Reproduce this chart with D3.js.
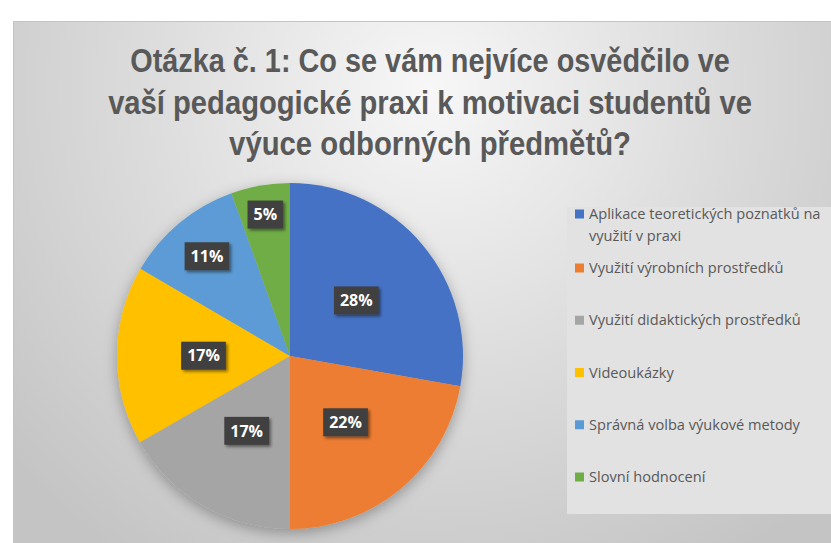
<!DOCTYPE html>
<html>
<head>
<meta charset="utf-8">
<script src="https://cdn.jsdelivr.net/npm/d3@7"></script>
<style>
body{margin:0;background:#fff}
</style>
</head>
<body>
<div id="chart"></div>
<script>
// data
const kategorie = ["Aplikace teoretických poznatků na využití v praxi", "Využití výrobních prostředků",
  "Využití didaktických prostředků", "Videoukázky", "Správná volba výukové metody", "Slovní hodnocení"]
const hodnoty = [27.8, 22.2, 16.7, 16.7, 11.1, 5.5]
const popisky = ["28%", "22%", "17%", "17%", "11%", "5%"]
const barvy = ["#4472c4", "#ed7d31", "#a5a5a5", "#ffc000", "#5b9bd5", "#70ad47"]
const titulek = ["Otázka č. 1: Co se vám nejvíce osvědčilo ve",
  "vaší pedagogické praxi k motivaci studentů ve", "výuce odborných předmětů?"]

const ancho = 831, alto = 543
const svg = d3.select("#chart").append("svg").attr("width", ancho).attr("height", alto)
const defs = svg.append("defs")

// pozadi
const grad = defs.append("radialGradient").attr("id", "bg")
  .attr("gradientUnits", "userSpaceOnUse").attr("cx", 430).attr("cy", 90).attr("r", 560)
grad.append("stop").attr("offset", 0).attr("stop-color", "#f7f7f7")
grad.append("stop").attr("offset", 0.55).attr("stop-color", "#dadada")
grad.append("stop").attr("offset", 1).attr("stop-color", "#c4c4c4")

const stin = defs.append("filter").attr("id", "stin").attr("x", "-20%").attr("y", "-20%").attr("width", "140%").attr("height", "140%")
stin.append("feDropShadow").attr("dx", 0).attr("dy", 4).attr("stdDeviation", 7)
  .attr("flood-color", "#000").attr("flood-opacity", 0.3)
const stinBox = defs.append("filter").attr("id", "stinBox").attr("x", "-30%").attr("y", "-30%").attr("width", "160%").attr("height", "160%")
stinBox.append("feDropShadow").attr("dx", 2).attr("dy", 2).attr("stdDeviation", 1.5)
  .attr("flood-color", "#000").attr("flood-opacity", 0.45)

svg.append("rect").attr("x", 13.5).attr("y", 21.5).attr("width", ancho - 13).attr("height", alto - 21)
  .attr("fill", "url(#bg)").attr("stroke", "#c4c4c4").attr("stroke-width", 1)

// titulek - sirka radku podle predlohy, zuzeni pres scale
const sirky = [600, 644, 402]
svg.append("g").selectAll("text").data(titulek).enter().append("text")
  .attr("text-anchor", "middle")
  .style("font-family", "'Liberation Sans Narrow', 'Arial Narrow', sans-serif")
  .style("font-weight", "bold").style("font-size", "34px").attr("fill", "#595959")
  .text(d => d)
  .attr("transform", function(d, i) {
    const k = sirky[i] / this.getComputedTextLength()
    return `translate(430,${72 + i * 41.5}) scale(${k},1)`
  })

// kolac
const cx = 290, cy = 356, r = 173
const pie = d3.pie().sort(null).value(d => d)
const arc = d3.arc().innerRadius(0).outerRadius(r)
const data = pie(hodnoty)
const gPie = svg.append("g").attr("transform", `translate(${cx},${cy})`)
gPie.append("g").attr("filter", "url(#stin)").selectAll("path").data(data).enter().append("path")
  .attr("d", arc).attr("fill", (d, i) => barvy[i])

// popisky - mensi vysece posunuty ven
const polomery = [0.5, 0.5, 0.5, 0.5, 0.75, 0.83]
const gLab = gPie.append("g").selectAll("g").data(data).enter().append("g")
  .attr("transform", (d, i) => {
    const a = (d.startAngle + d.endAngle) / 2, rr = r * polomery[i]
    return `translate(${rr * Math.sin(a)},${-rr * Math.cos(a)})`
  })
const txt = gLab.append("text").attr("text-anchor", "middle").attr("dy", "0.36em")
  .style("font-family", "'Open Sans', sans-serif").style("font-weight", "bold").style("font-size", "16px")
  .attr("fill", "#fff").text((d, i) => popisky[i])
txt.each(function() {
  const w = this.getComputedTextLength()
  d3.select(this.parentNode).insert("rect", "text")
    .attr("x", -w / 2 - 6).attr("y", -14).attr("width", w + 12).attr("height", 28)
    .attr("fill", "#404040").attr("filter", "url(#stinBox)")
})

// legenda
svg.append("rect").attr("x", 567).attr("y", 207).attr("width", ancho - 567).attr("height", 307)
  .attr("fill", "#e2e2e2")
const yLeg = d3.scalePoint().domain(kategorie.slice(1)).range([268, 477])
const gLeg = svg.append("g")
kategorie.forEach((k, i) => {
  const y = i === 0 ? 214 : yLeg(k)
  const g = gLeg.append("g").attr("transform", `translate(575,${y})`)
  g.append("rect").attr("x", 0).attr("y", -4.5).attr("width", 9).attr("height", 9).attr("fill", barvy[i])
  const t = g.append("text").attr("x", 14).attr("dy", "0.35em")
    .style("font-family", "'Open Sans', sans-serif").style("font-size", "14.6px").attr("fill", "#595959")
  // zalomeni radku
  const slova = k.split(" ")
  let radek = [], tsp = t.append("tspan").attr("x", 14)
  slova.forEach(s => {
    radek.push(s)
    tsp.text(radek.join(" "))
    if (tsp.node().getComputedTextLength() > 242 && radek.length > 1) {
      radek.pop(); tsp.text(radek.join(" "))
      radek = [s]
      tsp = t.append("tspan").attr("x", 14).attr("dy", "22px").text(s)
    }
  })
})
</script>
</body>
</html>
